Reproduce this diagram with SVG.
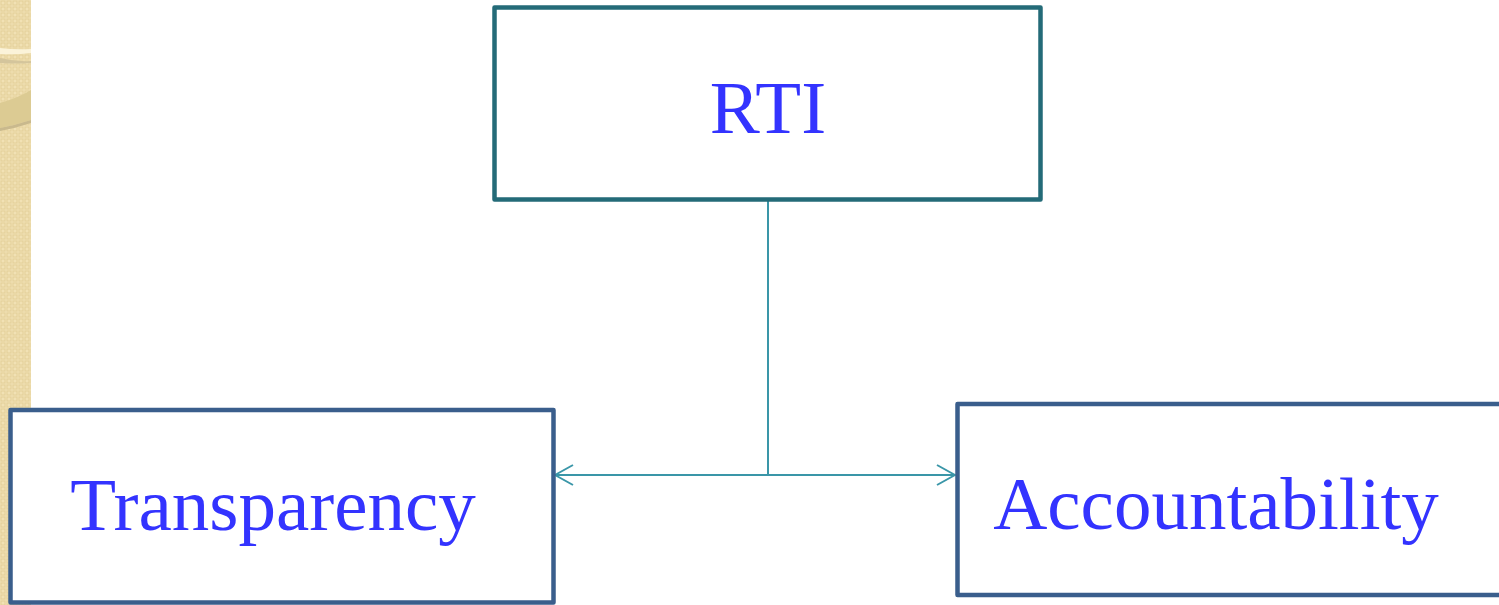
<svg xmlns="http://www.w3.org/2000/svg" width="1499" height="605" viewBox="0 0 1499 605">
<style>
.box{fill:#ffffff;stroke-width:4.5;stroke-linejoin:round}
.lbl{font-family:"Liberation Serif","Times New Roman",serif;font-size:75px;fill:#3333ff}
.conn{fill:none;stroke:#3a96a8;stroke-width:2}
</style>
<defs>
<pattern id="weave" width="6" height="6" patternUnits="userSpaceOnUse">
<rect width="6" height="6" fill="#f1e1b4"/>
<rect x="1" y="1" width="4" height="4" fill="none" stroke="#e3cf98" stroke-width="1"/>
</pattern>
<marker id="open" viewBox="0 0 20 22" refX="19" refY="11" markerWidth="20" markerHeight="22" markerUnits="userSpaceOnUse" orient="auto-start-reverse">
<path d="M1,1 L19,11 L1,21" fill="none" stroke="#3a96a8" stroke-width="2"/>
</marker>
</defs>
<rect x="0" y="0" width="1499" height="605" fill="#ffffff"/>
<g id="background">
<rect x="0" y="0" width="31" height="605" fill="url(#weave)"/>
<path d="M0,48 Q16,50 31,49 L31,53 Q16,55 0,54 Z" fill="#fbf3d9"/>
<path d="M0,58 Q16,62 31,61 L31,63 Q16,64 0,63 Z" fill="#d4c59c"/>
<path d="M0,103 Q18,98 31,90 L31,120 Q16,125 0,128 Z" fill="#dccb93"/>
<path d="M0,128 Q16,125 31,120 L31,123 Q16,128 0,131 Z" fill="#c9b98d"/>
</g>
<g id="connectors">
<line class="conn" x1="768" y1="201" x2="768" y2="475"/>
<line class="conn" x1="555" y1="475" x2="955" y2="475" marker-start="url(#open)" marker-end="url(#open)"/>
</g>
<g id="node-rti">
<rect class="box" x="494.5" y="7.5" width="546" height="192" stroke="#246b78"/>
<text class="lbl" x="768" y="133" text-anchor="middle">RTI</text>
</g>
<g id="node-transparency">
<rect class="box" x="10.5" y="410" width="543" height="192.5" stroke="#3a5e8c"/>
<text class="lbl" x="273" y="530" text-anchor="middle">Transparency</text>
</g>
<g id="node-accountability">
<rect class="box" x="957.5" y="404" width="560" height="191" stroke="#3a5e8c"/>
<text class="lbl" x="1216" y="529" text-anchor="middle">Accountability</text>
</g>
</svg>
